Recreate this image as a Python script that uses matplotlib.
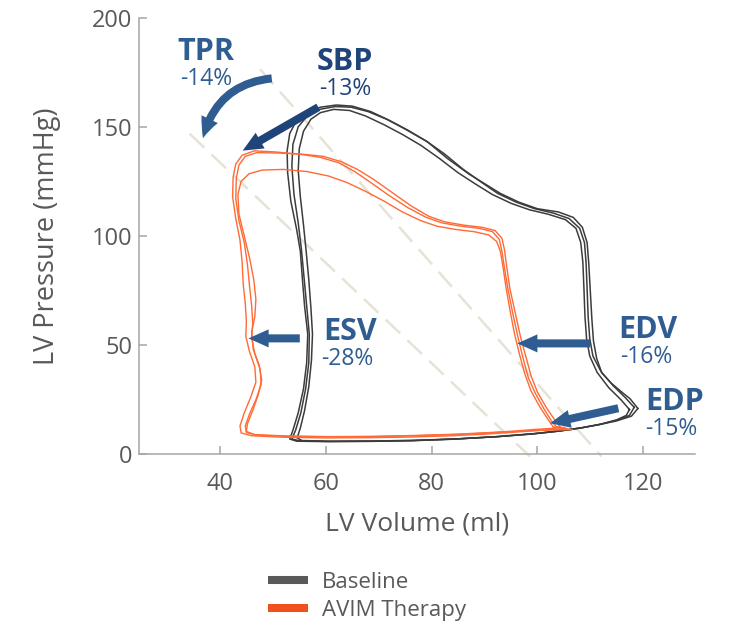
import matplotlib
matplotlib.use("Agg")
from matplotlib import pyplot as plt
from matplotlib.lines import Line2D

## DATA
# Pressure-volume loops (volume in ml, pressure in mmHg)
baseline_loop_1 = [
    (119.0, 21.0), (117.5, 25.5), (116.2, 28.0), (114.0, 32.5), (112.2, 37.2), (111.2, 44.0),
    (110.6, 52.0), (110.3, 62.0), (110.0, 75.0), (109.7, 88.0), (109.4, 97.0), (108.5, 104.0),
    (106.8, 108.5), (104.0, 111.0), (100.0, 112.5), (96.5, 115.5), (93.0, 119.5), (90.0, 124.0),
    (87.0, 128.5), (83.0, 135.5), (79.3, 143.0), (75.5, 148.5), (72.0, 153.0), (68.5, 157.0),
    (65.0, 159.5), (62.0, 160.0), (59.0, 159.0), (56.5, 157.0), (54.5, 153.0), (53.2, 147.0),
    (52.7, 139.0), (52.8, 129.0), (53.4, 116.0), (54.5, 103.0), (55.2, 93.0), (55.6, 80.0),
    (56.0, 68.0), (56.6, 55.0), (56.4, 42.0), (55.8, 30.0), (54.8, 19.0), (53.8, 11.0),
    (53.2, 7.0), (54.5, 6.0), (60.0, 5.8), (68.0, 5.9), (76.0, 6.2), (84.0, 6.9), (92.0, 8.0),
    (99.0, 9.3), (104.0, 10.6), (108.0, 12.0), (111.5, 13.5), (115.0, 15.3), (117.8, 17.5),
    (119.0, 21.0),
]
baseline_loop_2 = [
    (117.4, 20.5), (115.8, 25.0), (113.5, 30.5), (111.3, 37.5), (109.9, 45.0), (109.3, 53.0),
    (109.0, 63.0), (108.8, 76.0), (108.6, 88.0), (108.2, 97.0), (107.3, 103.5), (105.3, 107.5),
    (102.0, 110.0), (98.5, 112.0), (95.0, 115.0), (91.5, 119.0), (88.5, 123.5), (85.0, 129.0),
    (81.5, 135.5), (78.0, 141.5), (74.5, 146.5), (71.0, 151.0), (67.5, 155.0), (64.5, 157.5),
    (61.5, 158.0), (59.0, 156.5), (57.2, 153.5), (55.8, 148.0), (55.0, 140.0), (54.8, 130.0),
    (55.2, 118.0), (55.8, 105.0), (56.3, 93.0), (56.8, 80.0), (57.2, 67.0), (57.5, 55.0),
    (57.3, 43.0), (56.8, 31.0), (56.0, 20.0), (55.2, 12.0), (54.6, 7.5), (55.5, 6.3),
    (61.0, 6.0), (69.0, 6.1), (77.0, 6.4), (85.0, 7.1), (93.0, 8.2), (99.5, 9.5), (104.5, 10.8),
    (108.5, 12.2), (112.0, 13.8), (115.0, 15.8), (116.8, 17.8), (117.4, 20.5),
]
baseline_loop_3 = [
    (118.3, 21.5), (116.6, 26.0), (114.3, 31.5), (112.0, 38.0), (110.5, 45.0), (109.9, 53.0),
    (109.6, 63.0), (109.4, 76.0), (109.2, 88.0), (108.9, 97.0), (108.0, 103.5), (106.0, 108.0),
    (103.0, 110.5), (99.5, 112.5), (96.0, 115.5), (92.5, 119.5), (89.5, 124.5), (86.0, 130.5),
    (82.5, 137.5), (79.0, 143.5), (75.0, 149.0), (71.5, 153.5), (68.0, 157.0), (64.8, 159.0),
    (61.8, 159.3), (58.8, 158.0), (56.5, 155.0), (54.8, 150.0), (53.8, 142.0), (53.6, 132.0),
    (54.0, 119.0), (54.8, 106.0), (55.4, 94.0), (55.9, 81.0), (56.4, 68.0), (56.9, 55.0),
    (56.8, 42.0), (56.2, 30.0), (55.3, 19.0), (54.3, 11.0), (53.6, 7.0), (55.0, 6.2),
    (60.5, 5.9), (68.5, 6.0), (76.5, 6.3), (84.5, 7.0), (92.5, 8.1), (99.3, 9.4), (104.3, 10.7),
    (108.3, 12.1), (111.8, 13.7), (115.0, 15.6), (117.4, 17.8), (118.3, 21.5),
]

avim_loop_1 = [
    (105.5, 11.8), (103.5, 12.8), (102.6, 15.5), (101.2, 21.0), (99.6, 28.0), (98.3, 35.0),
    (97.3, 44.0), (96.4, 53.0), (95.4, 64.0), (94.5, 75.0), (93.8, 85.0), (93.3, 93.0),
    (92.8, 98.5), (91.5, 102.0), (89.0, 103.5), (85.5, 104.5), (82.0, 106.0), (79.0, 108.5),
    (75.5, 113.0), (72.0, 118.5), (68.5, 124.5), (65.5, 129.5), (62.5, 133.5), (59.0, 136.0),
    (55.0, 137.5), (50.5, 138.5), (46.5, 139.0), (44.2, 137.0), (43.0, 133.0), (42.5, 127.0),
    (42.4, 118.0), (43.0, 108.0), (43.8, 98.0), (44.2, 88.0), (44.4, 78.0), (44.8, 69.0),
    (45.0, 61.0), (44.9, 54.0), (45.6, 47.0), (46.6, 40.0), (46.8, 33.0), (45.8, 26.0),
    (44.6, 19.0), (43.8, 13.0), (44.0, 9.8), (46.0, 8.5), (52.0, 7.8), (60.0, 7.5), (68.0, 7.6),
    (76.0, 7.9), (84.0, 8.5), (90.0, 9.2), (95.0, 10.0), (99.5, 10.8), (105.5, 11.8),
]
avim_loop_2 = [
    (106.5, 11.3), (104.5, 12.0), (103.5, 15.0), (101.8, 21.0), (100.0, 28.5), (98.8, 36.0),
    (97.8, 45.0), (96.8, 54.0), (95.8, 65.0), (94.8, 76.0), (94.2, 86.0), (93.8, 93.5),
    (93.3, 99.0), (92.0, 102.5), (89.5, 104.0), (86.0, 105.0), (82.5, 106.5), (79.5, 109.0),
    (76.0, 114.0), (72.5, 120.0), (69.0, 126.0), (66.0, 130.5), (63.0, 134.0), (59.5, 136.5),
    (55.5, 137.5), (51.0, 138.0), (47.0, 138.2), (44.8, 136.5), (43.6, 132.5), (43.1, 126.5),
    (43.0, 117.0), (43.6, 107.0), (44.6, 97.0), (45.2, 87.0), (45.6, 77.0), (46.0, 68.0),
    (46.2, 60.0), (46.0, 53.5), (46.6, 46.0), (47.6, 39.0), (47.8, 32.0), (46.8, 25.0),
    (45.6, 18.5), (44.8, 13.0), (45.0, 10.0), (47.0, 8.8), (53.0, 8.2), (61.0, 8.0), (69.0, 8.1),
    (77.0, 8.5), (85.0, 9.1), (91.0, 9.8), (96.0, 10.5), (100.5, 11.0), (106.5, 11.3),
]
avim_loop_3 = [
    (105.0, 12.2), (103.0, 12.5), (102.0, 16.0), (100.4, 22.0), (98.8, 29.0), (97.6, 37.0),
    (96.6, 46.0), (95.7, 55.0), (94.9, 65.0), (94.1, 76.0), (93.5, 86.0), (93.0, 93.0),
    (92.3, 97.5), (90.8, 100.5), (88.0, 102.0), (84.5, 103.0), (81.0, 104.5), (78.0, 107.0),
    (74.5, 111.0), (71.0, 116.0), (67.5, 120.5), (64.0, 124.5), (60.5, 127.5), (56.5, 129.5),
    (52.0, 130.5), (48.0, 130.2), (45.5, 128.5), (44.0, 125.0), (43.4, 119.0), (43.6, 110.0),
    (44.6, 100.0), (45.6, 90.0), (46.4, 80.0), (46.8, 71.0), (46.6, 63.0), (46.0, 56.0),
    (46.3, 48.0), (47.4, 41.0), (47.9, 34.0), (47.2, 27.0), (46.2, 20.0), (45.2, 14.0),
    (45.0, 10.5), (46.5, 9.0), (52.5, 8.4), (60.5, 8.1), (68.5, 8.2), (76.5, 8.6), (84.5, 9.2),
    (90.5, 9.9), (95.5, 10.6), (99.5, 11.4), (105.0, 12.2),
]

# Dashed arterial elastance lines (start, end)
ea_baseline = [(47.6, 176.4), (112.1, -1.0)]
ea_avim = [(34.3, 146.8), (98.6, -1.0)]

# Annotations: label, change, arrow start, arrow tip, label position
labels = ["TPR", "SBP", "ESV", "EDV", "EDP"]
changes = ["-14%", "-13%", "-28%", "-16%", "-15%"]
arrow_starts = [(49.8, 172.2), (58.6, 159.0), (55.1, 53.1), (110.0, 50.8), (115.3, 21.1)]
arrow_tips = [(36.8, 144.8), (44.3, 139.1), (45.4, 53.1), (96.2, 50.8), (102.4, 14.2)]
label_pos = [(37.4, 180.6), (63.6, 176.1), (64.6, 52.4), (120.8, 53.3), (126.0, 20.3)]
change_pos = [(37.4, 169.2), (63.6, 164.6), (64.0, 41.0), (120.6, 41.9), (125.3, 8.8)]

legend_labels = ["Baseline", "AVIM Therapy"]

## STYLE
GREY_TEXT = "#595959"
AXIS_GREY = "#A6A6A6"
BASELINE_COLOR = "#3C3C3C"
AVIM_COLOR = "#FF6A35"
LEGEND_COLORS = ["#595959", "#F04F1E"]
ARROW_COLORS = ["#2F5D91", "#1F4479", "#2F5D91", "#2F5D91", "#2F5D91"]
TEXT_COLORS = ["#2F5D91", "#1F4479", "#2F5D91", "#2F5D91", "#2F5D91"]
CURVES = [0.35, 0, 0, 0, 0]


def main():
    plt.rcParams['font.family'] = ['Open Sans', 'DejaVu Sans']

    fig = plt.figure(figsize=(7.33, 6.23), dpi=100)
    ax = fig.add_axes([0.1903, 0.2708, 0.7579, 0.7008])

    # Dashed lines
    for line in (ea_baseline, ea_avim):
        ax.plot([line[0][0], line[1][0]], [line[0][1], line[1][1]],
                color="#E6E3D6", lw=1.8, dashes=(8, 4), zorder=1, clip_on=False)

    # Loops
    for loop in (baseline_loop_1, baseline_loop_2, baseline_loop_3):
        ax.plot([p[0] for p in loop], [p[1] for p in loop],
                color=BASELINE_COLOR, lw=1.1, zorder=2)
    for loop in (avim_loop_1, avim_loop_2, avim_loop_3):
        ax.plot([p[0] for p in loop], [p[1] for p in loop],
                color=AVIM_COLOR, lw=1.0, zorder=3)

    # Arrows and labels
    for i in range(len(labels)):
        ax.annotate("", xy=arrow_tips[i], xytext=arrow_starts[i],
                    arrowprops=dict(arrowstyle="simple,head_length=1.45,head_width=1.3,tail_width=0.58",
                                    mutation_scale=10, color=ARROW_COLORS[i], lw=0,
                                    shrinkA=0, shrinkB=0,
                                    connectionstyle="arc3,rad={}".format(CURVES[i])),
                    zorder=5)
        ax.text(label_pos[i][0], label_pos[i][1], labels[i], fontsize=22,
                fontweight='bold', color=TEXT_COLORS[i], ha='center', va='baseline')
        ax.text(change_pos[i][0], change_pos[i][1], changes[i], fontsize=16.5,
                color=TEXT_COLORS[i], ha='center', va='baseline')

    # Axes
    ax.set_xlim(24.8, 129.8)
    ax.set_ylim(0, 200)
    ax.set_xticks([40, 60, 80, 100, 120])
    ax.set_yticks([0, 50, 100, 150, 200])
    for side in ['top', 'right']:
        ax.spines[side].set_visible(False)
    for side in ['left', 'bottom']:
        ax.spines[side].set_color(AXIS_GREY)
        ax.spines[side].set_linewidth(1.1)
    ax.tick_params(direction='in', length=6, width=1.1, color=AXIS_GREY,
                   labelcolor=GREY_TEXT, labelsize=17)
    ax.tick_params(axis='x', pad=13)
    ax.tick_params(axis='y', pad=5)

    ax.set_xlabel("LV Volume (ml)", fontsize=19, color=GREY_TEXT, labelpad=11)
    ax.set_ylabel("LV Pressure (mmHg)", fontsize=19.5, color=GREY_TEXT, labelpad=22)

    # Legend
    handles = [Line2D([], [], color=c, lw=5.8, solid_capstyle='butt') for c in LEGEND_COLORS]
    fig.legend(handles, legend_labels, loc='upper left', bbox_to_anchor=(0.366, 0.082),
               frameon=False, fontsize=16, labelcolor=GREY_TEXT, handlelength=1.8,
               handletextpad=0.6, labelspacing=0.33, borderpad=0, borderaxespad=0)

    fig.savefig("out.png", dpi=100)


if __name__ == "__main__":
    main()
